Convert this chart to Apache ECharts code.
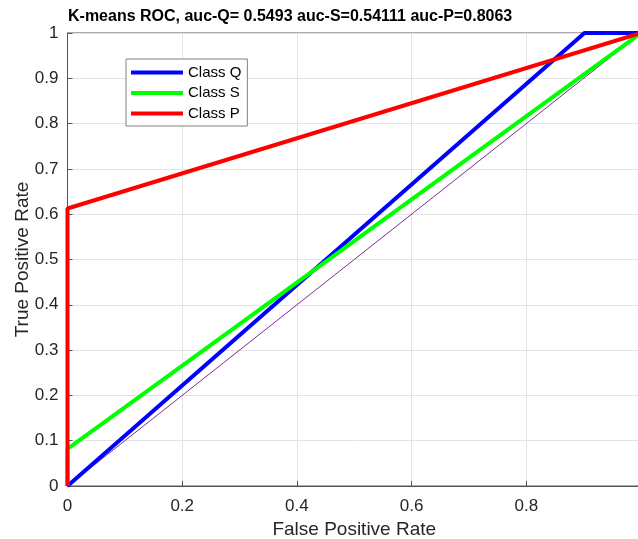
<!DOCTYPE html>
<html>
<head>
<meta charset="utf-8">
<script src="https://cdn.jsdelivr.net/npm/echarts@6/dist/echarts.min.js"></script>
<style>
  html, body { margin: 0; padding: 0; background: #fff; overflow: hidden; }
  #chart { width: 638px; height: 539px; }
</style>
</head>
<body>
<div id="chart"></div>
<script>
// ROC curves for the three K-means classes (false positive rate vs true positive rate)
const classNames = ['Class Q', 'Class S', 'Class P'];
const classColors = ['#0000ff', '#00ff00', '#ff0000'];

const fprQ = [0, 0.9014, 1];
const tprQ = [0, 1, 1];

const fprS = [0, 0, 1];
const tprS = [0, 0.0822, 1];

const fprP = [0, 0, 1];
const tprP = [0, 0.6126, 1];

// chance diagonal
const fprChance = [0, 1];
const tprChance = [0, 1];

const xTicks = [0, 0.2, 0.4, 0.6, 0.8, 1];
const yTicks = [0, 0.1, 0.2, 0.3, 0.4, 0.5, 0.6, 0.7, 0.8, 0.9, 1];

const titleText = 'K-means ROC, auc-Q= 0.5493 auc-S=0.54111 auc-P=0.8063';

const pairs = (xs, ys) => xs.map((x, i) => [x, ys[i]]);
const curves = [pairs(fprQ, tprQ), pairs(fprS, tprS), pairs(fprP, tprP)];

const font = '"Liberation Sans", Arial, Helvetica, sans-serif';
const axisColor = '#555555';

const chart = echarts.init(document.getElementById('chart'), null, { renderer: 'canvas' });

const series = [{
  type: 'line',
  name: 'chance',
  data: pairs(fprChance, tprChance),
  symbol: 'none',
  clip: false,
  lineStyle: { color: '#7E2F8E', width: 1 },
  silent: true,
  z: 2
}];
curves.forEach((d, i) => {
  series.push({
    type: 'line',
    name: classNames[i],
    data: d,
    symbol: 'none',
    clip: false,
    color: classColors[i],
    lineStyle: { color: classColors[i], width: 4 },
    z: 3 + i
  });
});

chart.setOption({
  animation: false,
  backgroundColor: '#ffffff',
  textStyle: { fontFamily: font },
  title: {
    text: titleText,
    left: 63,
    top: 4,
    textStyle: { fontFamily: font, fontSize: 16, fontWeight: 'bold', color: '#000' }
  },
  grid: {
    left: 67.5,
    top: 33,
    width: 573.5,
    height: 453,
    outerBoundsMode: 'none',
    containLabel: false,
    show: true,
    borderColor: axisColor,
    borderWidth: 1,
    backgroundColor: 'transparent'
  },
  legend: {
    data: classNames,
    orient: 'vertical',
    left: 126,
    top: 59,
    icon: 'rect',
    itemWidth: 52,
    itemHeight: 4,
    itemGap: 5.5,
    itemTextGap: 5,
    padding: [6, 6, 5, 5],
    backgroundColor: '#ffffff',
    borderColor: '#808080',
    borderWidth: 1,
    textStyle: { fontFamily: font, fontSize: 15, color: '#000' }
  },
  xAxis: {
    type: 'value',
    min: xTicks[0],
    max: xTicks[xTicks.length - 1],
    interval: 0.2,
    name: 'False Positive Rate',
    nameLocation: 'middle',
    nameGap: 34,
    nameMoveOverlap: false,
    nameTextStyle: { fontFamily: font, fontSize: 19, color: '#262626' },
    axisLine: { show: true, lineStyle: { color: axisColor, width: 1 } },
    axisTick: { show: true, inside: true, length: 5, lineStyle: { color: axisColor } },
    axisLabel: {
      margin: 12,
      showMaxLabel: false,
      fontFamily: font, fontSize: 17, color: '#262626',
      formatter: v => String(+v.toFixed(1))
    },
    splitLine: { show: true, lineStyle: { color: '#e3e3e3', width: 1 } }
  },
  yAxis: {
    type: 'value',
    min: yTicks[0],
    max: yTicks[yTicks.length - 1],
    interval: 0.1,
    name: 'True Positive Rate',
    nameLocation: 'middle',
    nameGap: 35,
    nameMoveOverlap: false,
    nameTextStyle: { fontFamily: font, fontSize: 19, color: '#262626' },
    axisLine: { show: true, lineStyle: { color: axisColor, width: 1 } },
    axisTick: { show: true, inside: true, length: 5, lineStyle: { color: axisColor } },
    axisLabel: {
      margin: 9,
      fontFamily: font, fontSize: 17, color: '#262626',
      formatter: v => String(+v.toFixed(1))
    },
    splitLine: { show: true, lineStyle: { color: '#e3e3e3', width: 1 } }
  },
  series: series
});
</script>
</body>
</html>
